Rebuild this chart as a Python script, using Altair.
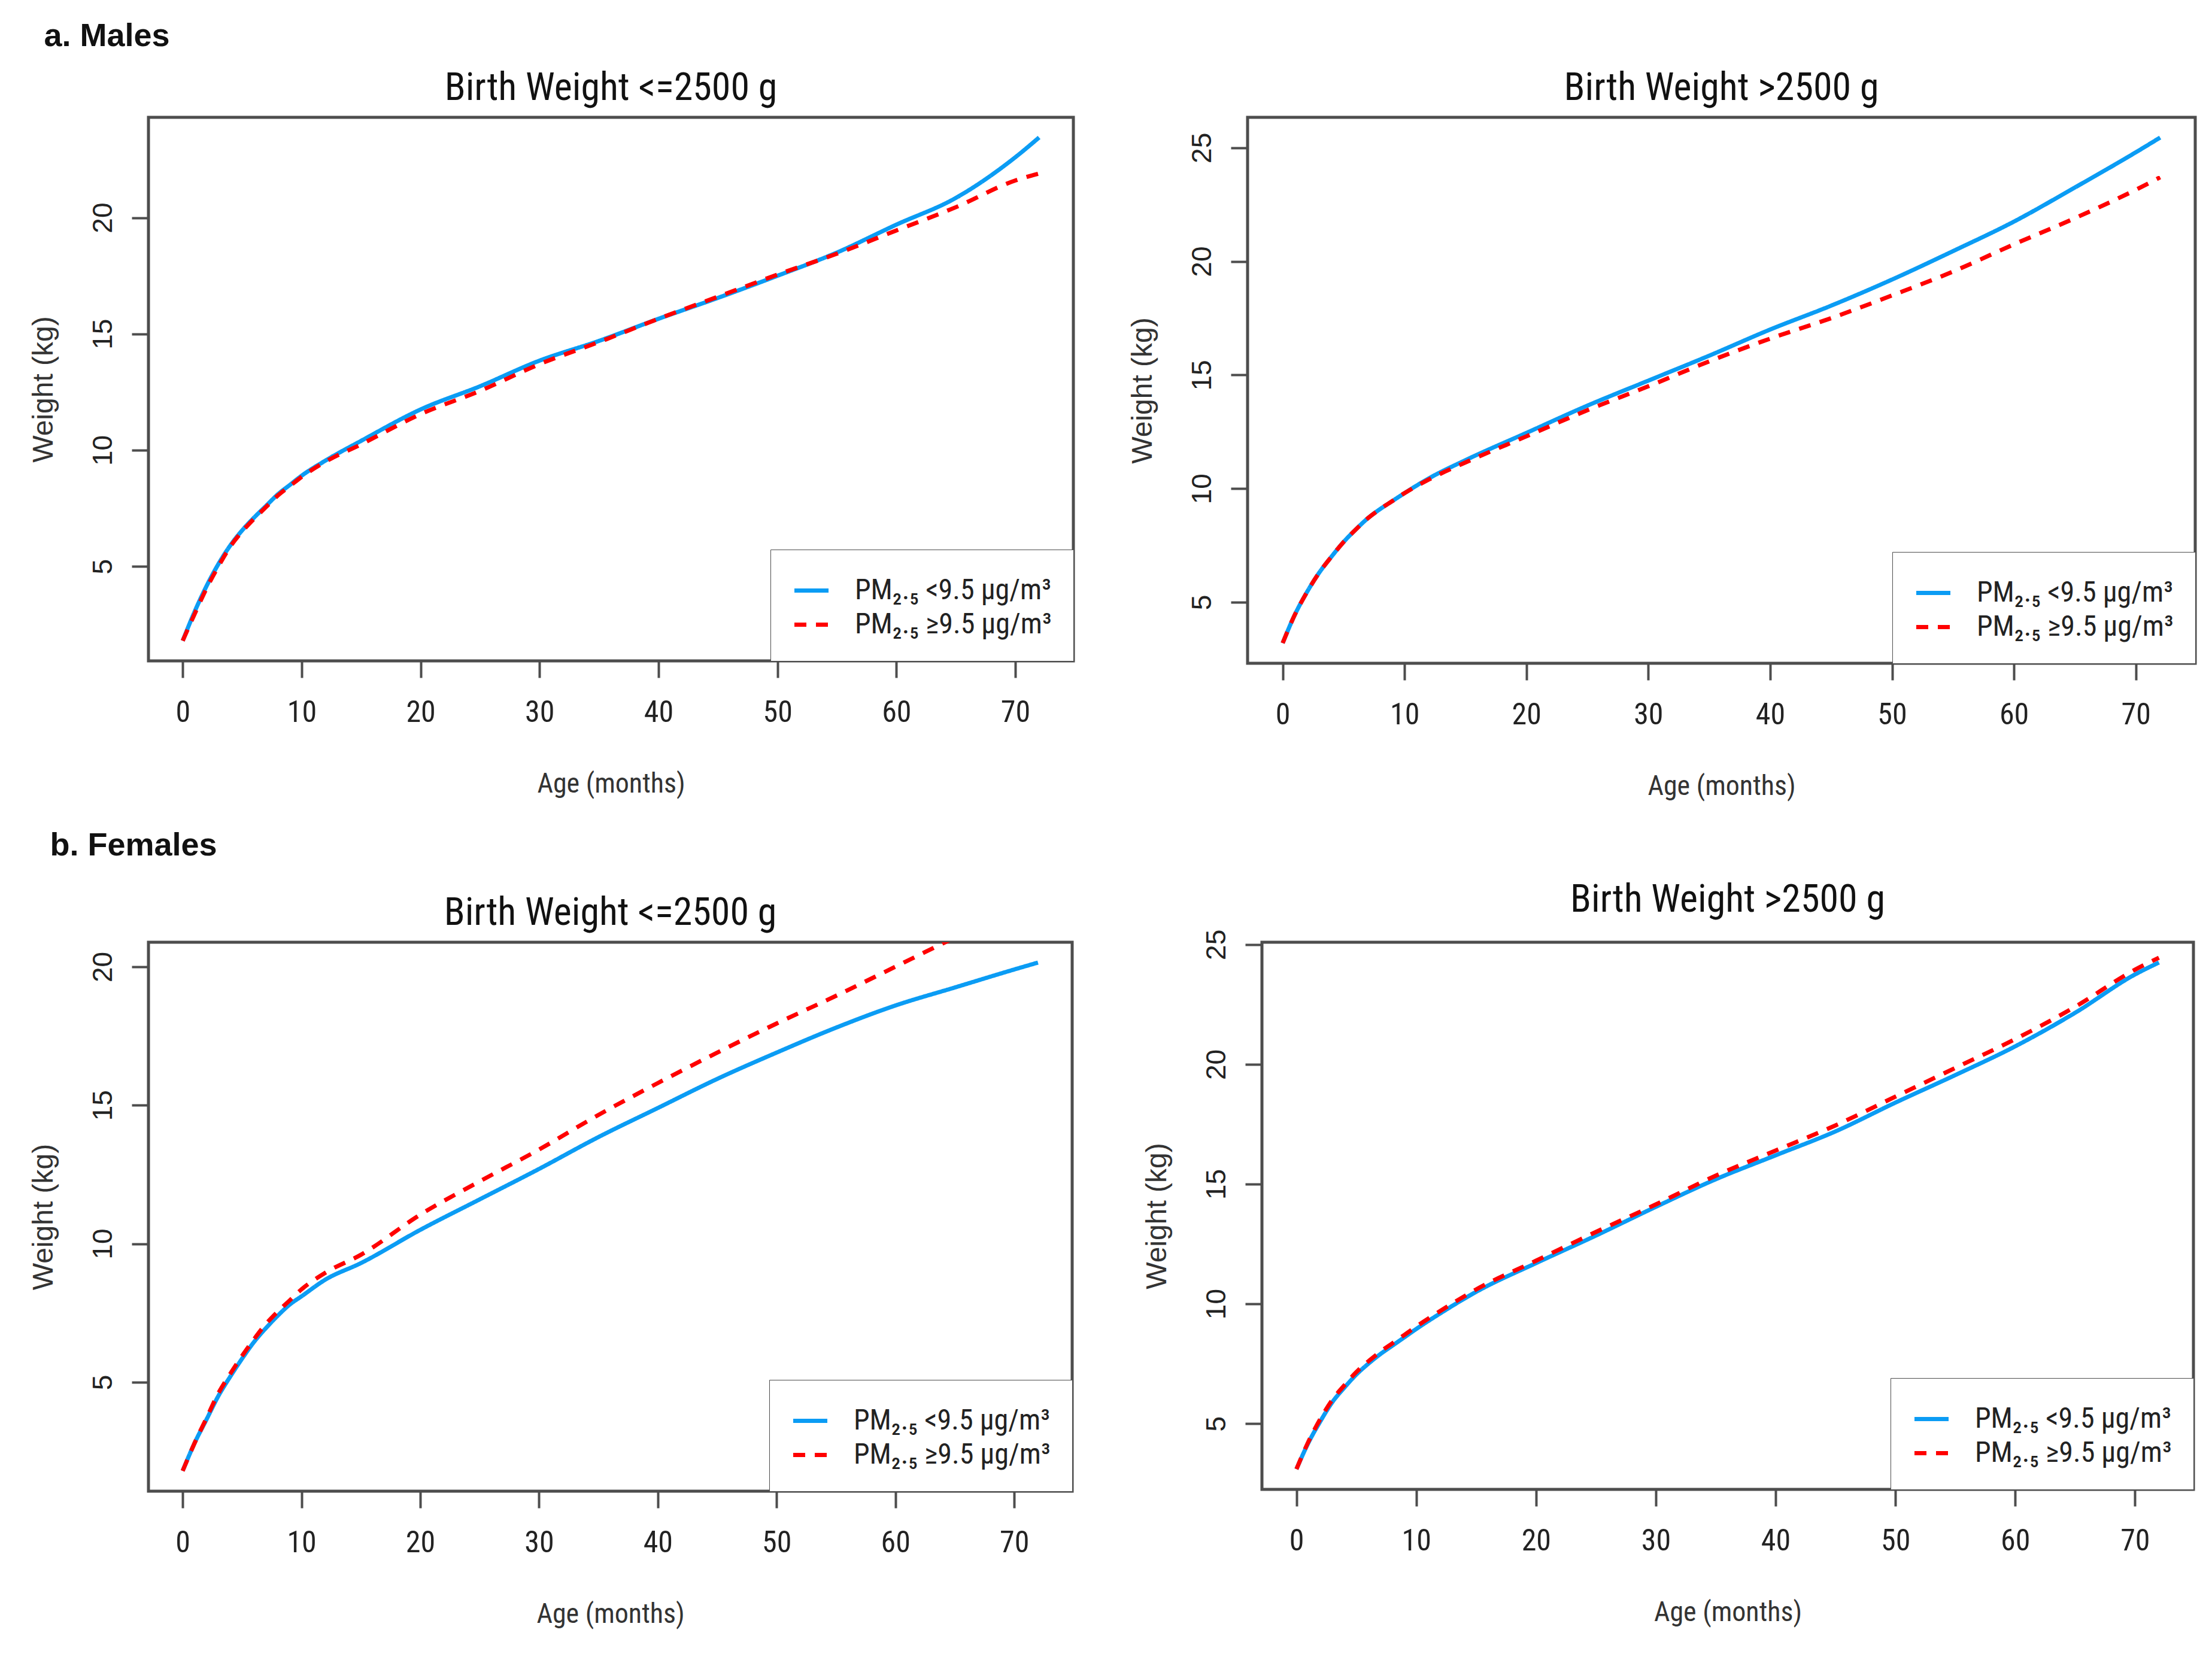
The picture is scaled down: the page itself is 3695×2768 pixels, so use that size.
import altair as alt
import pandas as pd

# age in months, shared by every curve
ages = [0, 1, 2, 3, 4, 5, 6, 7, 8, 9, 10, 12, 15, 20, 25, 30, 35, 40, 45, 50, 55, 60, 65, 70, 72]

labels = ["PM₂.₅ <9.5 μg/m³", "PM₂.₅ ≥9.5 μg/m³"]
colors = ["#0B9CF4", "#FF0000"]

# a. Males, birth weight <=2500 g
m_low_clean = [1.8, 3.05, 4.15, 5.1, 5.9, 6.55, 7.1, 7.6, 8.1, 8.5, 8.9, 9.55, 10.4, 11.75, 12.75,
               13.85, 14.7, 15.65, 16.55, 17.5, 18.5, 19.7, 20.85, 22.6, 23.45]
m_low_poll = [1.8, 2.95, 4.05, 5.0, 5.85, 6.5, 7.05, 7.55, 8.05, 8.45, 8.85, 9.5, 10.25, 11.55, 12.55,
              13.7, 14.65, 15.65, 16.6, 17.55, 18.45, 19.45, 20.45, 21.6, 21.9]
# a. Males, birth weight >2500 g
m_high_clean = [3.2, 4.45, 5.45, 6.3, 7.0, 7.65, 8.2, 8.7, 9.1, 9.45, 9.8, 10.45, 11.25, 12.45, 13.65,
                14.75, 15.85, 17.0, 18.05, 19.2, 20.45, 21.75, 23.25, 24.8, 25.45]
m_high_poll = [3.2, 4.45, 5.45, 6.3, 7.0, 7.65, 8.2, 8.7, 9.1, 9.45, 9.8, 10.4, 11.15, 12.3, 13.45,
               14.5, 15.6, 16.6, 17.5, 18.5, 19.55, 20.75, 21.9, 23.15, 23.7]
# b. Females, birth weight <=2500 g
f_low_clean = [1.8, 2.8, 3.65, 4.5, 5.2, 5.85, 6.45, 6.95, 7.4, 7.8, 8.1, 8.7, 9.3, 10.5, 11.6,
               12.7, 13.85, 14.9, 15.95, 16.9, 17.8, 18.6, 19.25, 19.9, 20.15]
f_low_poll = [1.8, 2.8, 3.7, 4.6, 5.3, 5.95, 6.55, 7.1, 7.55, 7.95, 8.35, 8.95, 9.6, 11.05, 12.25,
              13.4, 14.65, 15.8, 16.9, 17.95, 18.95, 20.0, 21.05, 22.0, 22.4]
# b. Females, birth weight >2500 g
f_high_clean = [3.1, 4.2, 5.1, 5.9, 6.5, 7.05, 7.5, 7.9, 8.25, 8.6, 8.95, 9.6, 10.5, 11.7, 12.85,
                14.05, 15.2, 16.2, 17.2, 18.4, 19.55, 20.75, 22.15, 23.75, 24.25]
f_high_poll = [3.1, 4.25, 5.2, 6.0, 6.6, 7.15, 7.6, 8.0, 8.35, 8.7, 9.05, 9.7, 10.6, 11.8, 13.0,
               14.15, 15.35, 16.4, 17.45, 18.65, 19.85, 21.05, 22.4, 23.95, 24.45]

x_ticks = [0, 10, 20, 30, 40, 50, 60, 70]

NARROW = "Liberation Sans Narrow, Arial Narrow, Roboto Condensed, Liberation Sans, sans-serif"
PLAIN = "Liberation Sans, Arial, sans-serif"


def r_range(vals):
    # R's default 4% axis extension
    lo, hi = min(vals), max(vals)
    pad = 0.04 * (hi - lo)
    return [lo - pad, hi + pad]


def panel(clean, poll, title, y_ticks, width, height):
    df = pd.DataFrame(
        {
            "age": ages + ages,
            "weight": clean + poll,
            "group": [labels[0]] * len(ages) + [labels[1]] * len(ages),
        }
    )
    return (
        alt.Chart(df, title=title)
        .mark_line(strokeWidth=7, clip=True, interpolate="monotone")
        .encode(
            x=alt.X("age:Q")
            .scale(domain=r_range(ages), nice=False, zero=False)
            .axis(values=x_ticks, title="Age (months)"),
            y=alt.Y("weight:Q")
            .scale(domain=r_range(clean), nice=False, zero=False)
            .axis(values=y_ticks, title="Weight (kg)"),
            color=alt.Color("group:N")
            .scale(domain=labels, range=colors)
            .legend(title=None),
            strokeDash=alt.StrokeDash("group:N")
            .scale(domain=labels, range=[[1, 0], [20, 16]])
            .legend(title=None),
        )
        .properties(width=width, height=height)
    )


def row_title(text, offset, dx):
    return alt.Title(text, anchor="start", fontSize=54, fontWeight="bold", font=PLAIN,
                     color="#111", offset=offset, dx=dx)


males = alt.hconcat(
    panel(m_low_clean, m_low_poll, "Birth Weight <=2500 g", [5, 10, 15, 20], 1545, 908),
    panel(m_high_clean, m_high_poll, "Birth Weight >2500 g", [5, 10, 15, 20, 25], 1583, 912),
    spacing=86,
    title=row_title("a. Males", 26, 27),
).resolve_scale(y="independent", color="independent", strokeDash="independent").resolve_legend(
    color="independent", strokeDash="independent"
)

females = alt.hconcat(
    panel(f_low_clean, f_low_poll, "Birth Weight <=2500 g", [5, 10, 15, 20], 1543, 917),
    panel(f_high_clean, f_high_poll, "Birth Weight >2500 g", [5, 10, 15, 20, 25], 1556, 914),
    spacing=112,
    title=row_title("b. Females", 30, 37),
).resolve_scale(y="independent", color="independent", strokeDash="independent").resolve_legend(
    color="independent", strokeDash="independent"
)

chart = (
    alt.vconcat(males, females, spacing=46)
    .resolve_scale(y="independent", color="independent", strokeDash="independent")
    .resolve_legend(color="independent", strokeDash="independent")
    .properties(padding={"left": 38, "top": 25, "right": 10, "bottom": 5})
    .configure_view(stroke="#4d4d4d", strokeWidth=5)
    .configure_title(font=NARROW, fontSize=64, fontWeight="normal", color="#111", offset=16)
    .configure_axis(
        grid=False,
        domain=False,
        tickColor="#4d4d4d",
        tickWidth=4,
        tickSize=28,
        labelColor="#222",
        titleColor="#333",
        titleFontWeight="normal",
    )
    .configure_axisX(
        labelFont=NARROW,
        labelFontSize=50,
        labelPadding=33,
        titleFont=NARROW,
        titleFontSize=46,
        titlePadding=72,
    )
    .configure_axisY(
        labelFont=PLAIN,
        labelFontSize=46,
        labelAngle=270,
        labelAlign="center",
        labelBaseline="bottom",
        labelPadding=24,
        titleFont=PLAIN,
        titleFontSize=48,
        titlePadding=52,
    )
    .configure_legend(
        orient="bottom-right",
        offset=0,
        strokeColor="#4d4d4d",
        fillColor="white",
        padding=36,
        rowPadding=0,
        labelFont=NARROW,
        labelFontSize=48,
        labelLimit=0,
        labelColor="#222",
        labelOffset=40,
        symbolType="stroke",
        symbolSize=3250,
        symbolStrokeWidth=7,
    )
)

chart.save("out.html", embed_options={"renderer": "svg", "actions": False})
